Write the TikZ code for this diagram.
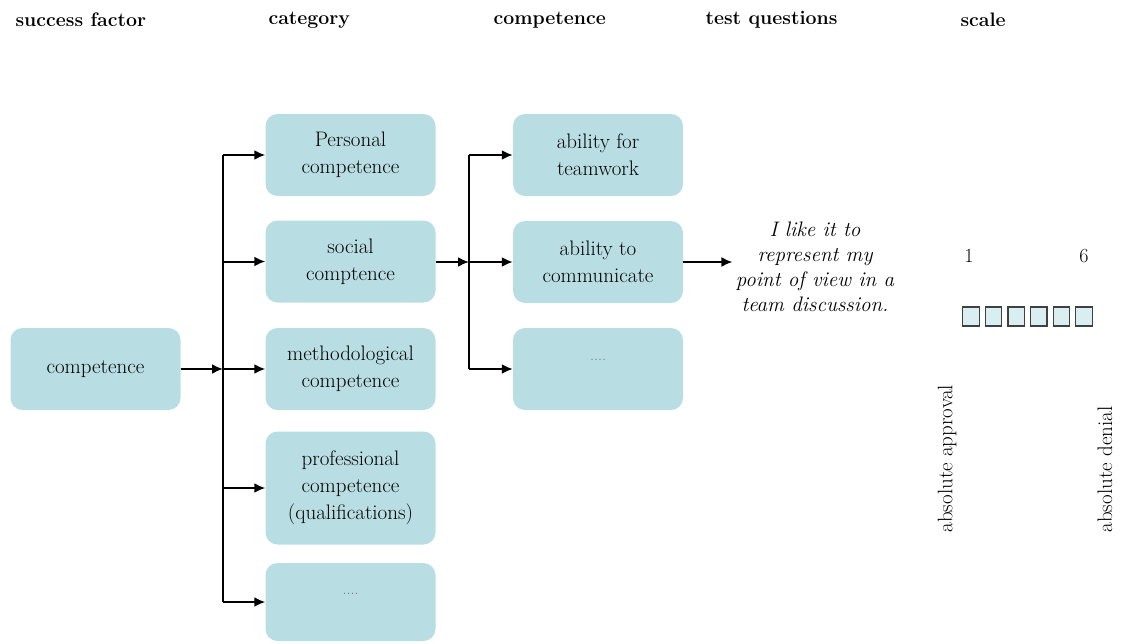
\documentclass[tikz,border=0pt]{standalone}
\usetikzlibrary{arrows.meta,calc}
\definecolor{boxfill}{RGB}{184,222,228}
\definecolor{sqfill}{RGB}{216,238,240}
\tikzset{
  box/.style={fill=boxfill,rounded corners=12pt,align=center,minimum width=170pt,
    minimum height=82pt,inner sep=0pt,font=\fontsize{21}{27}\selectfont},
  hdr/.style={anchor=west,font=\fontsize{19.5}{21}\selectfont\bfseries},
  arr/.style={line width=2pt,-{Latex[length=11pt,width=10pt]}},
  bar/.style={line width=2pt},
  sq/.style={draw=black!75,fill=sqfill,line width=1.2pt,minimum width=16.5pt,minimum height=19pt,inner sep=0pt},
  dots/.style={text=black!55,font=\fontsize{16}{18}\selectfont}
}
\begin{document}
\begin{tikzpicture}[x=1pt,y=-1pt]
  \useasboundingbox (0,0) rectangle (1122,643);
  % column heads
  \node[hdr] (h1) at (12,20) {success factor};
  \node[hdr] (h2) at (265,20) {category};
  \node[hdr] (h3) at (490,20) {competence};
  \node[hdr] (h4) at (702,20) {test questions};
  \node[hdr] (h5) at (957,20) {scale};
  % boxes
  \node[box] (comp) at (95.5,369) {competence};
  \node[box] (pers) at (350.5,155) {Personal\\competence};
  \node[box] (soc) at (350.5,261.5) {social\\comptence};
  \node[box] (meth) at (350.5,369) {methodological\\competence};
  \node[box,minimum height=113pt] (prof) at (350.5,488) {professional\\competence\\(qualifications)};
  \node[box,minimum height=78pt] (more1) at (350.5,602) {};
  \node[box] (team) at (598,155) {ability for\\teamwork};
  \node[box] (comm) at (598,262) {ability to\\communicate};
  \node[box] (more2) at (598,369) {};
  \node[dots] (d1) at ($(more1)+(0,-8)$) {....};
  \node[dots] (d2) at ($(more2)+(0,-9)$) {....};
  \node[align=center,font=\fontsize{21}{25}\selectfont\itshape] (quest) at (815,267)
    {I like it to\\represent my\\point of view in a\\team discussion.};
  % branches
  \coordinate (j1) at (223,369);
  \coordinate (j2) at (469,262);
  \draw[arr] (comp) -- (j1);
  \draw[bar] (j1 |- pers) -- (j1 |- more1);
  \foreach \b in {pers,soc,meth,prof,more1}
    \draw[arr] (j1 |- \b) -- (\b);
  \draw[arr] (soc.east |- j2) -- (j2);
  \draw[bar] (j2 |- team) -- (j2 |- more2);
  \foreach \b in {team,comm,more2}
    \draw[arr] (j2 |- \b) -- (\b);
  \draw[arr] (comm) -- (quest.west |- comm);
  % scale
  \foreach \i in {1,...,6}
    \node[sq] (sq\i) at ({971+22.6*(\i-1)},316.5) {};
  \node[font=\fontsize{20}{22}\selectfont] (one) at (969,256) {1};
  \node[font=\fontsize{20}{22}\selectfont] (six) at (1084,256) {6};
  \node[rotate=90,anchor=west,font=\fontsize{21}{23}\selectfont] (appr) at (947,536) {absolute approval};
  \node[rotate=90,anchor=west,font=\fontsize{21}{23}\selectfont] (deny) at (1105,536) {absolute denial};
\end{tikzpicture}
\end{document}
